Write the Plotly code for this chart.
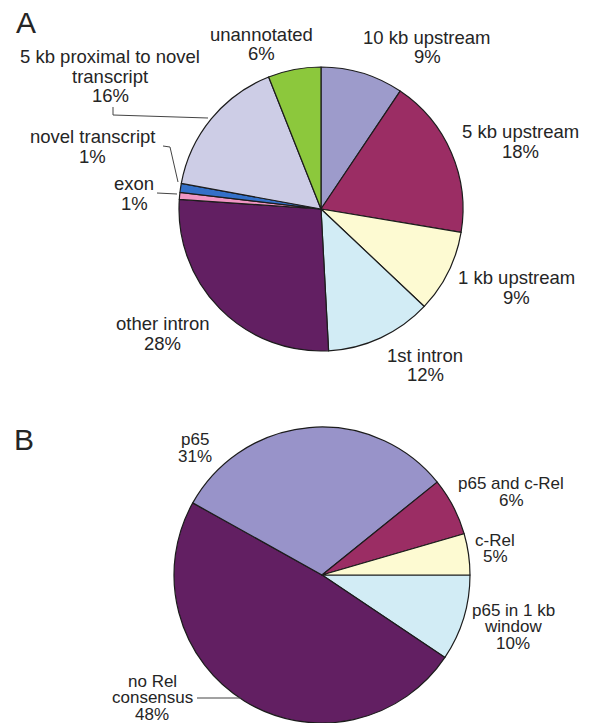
import plotly.graph_objects as go

W, H = 590, 723

# ---- Panel A data (clockwise from 12 o'clock) ----
names_a = ["10 kb upstream", "5 kb upstream", "1 kb upstream", "1st intron",
           "other intron", "exon", "novel transcript",
           "5 kb proximal to novel transcript", "unannotated"]
values_a = [9.4, 18.2, 9.4, 12.1, 26.9, 0.8, 1.0, 16.1, 6.0]
pct_a = ["9%", "18%", "9%", "12%", "28%", "1%", "1%", "16%", "6%"]
colors_a = ["#9D9BCB", "#9B2D64", "#FDFAD2", "#D2ECF5", "#621F62",
            "#F096C3", "#3470C8", "#CDCDE6", "#8CC83C"]

# ---- Panel B data (clockwise from 3 o'clock) ----
names_b = ["p65 in 1 kb window", "no Rel consensus", "p65", "p65 and c-Rel", "c-Rel"]
values_b = [9.4, 48.7, 31.1, 6.3, 4.5]
pct_b = ["10%", "48%", "31%", "6%", "5%"]
colors_b = ["#D2ECF5", "#621F62", "#9893C9", "#9B2D64", "#FDFAD2"]

# label line breaks (text lines above the percentage)
lines_a = [["10 kb upstream"], ["5 kb upstream"], ["1 kb upstream"], ["1st intron"],
           ["other intron"], ["exon"], ["novel transcript"],
           ["5 kb proximal to novel", "transcript"], ["unannotated"]]
lines_b = [["p65 in 1 kb", "window"], ["no Rel", "consensus"], ["p65"],
           ["p65 and c-Rel"], ["c-Rel"]]

# label block layout (pixel centre x, first line centre y)
pos_a = [(427, 37), (520, 131.5), (516, 277.5), (425, 355), (163, 323.5),
         (134, 183.5), (92, 136.5), (110, 57), (261, 34)]
pos_b = [(513, 610), (152, 681), (195, 440), (511, 484), (495, 540)]
step_a, step_b = 19.5, 16.8
font_a, font_b = 18.5, 17

def px(x):
    return x / W

def py(y):
    return 1 - y / H

def dom(cx, cy, r):
    y0 = max(0.0, py(cy + r))
    y1 = min(1.0, py(cy - r))
    return dict(x=[px(cx - r), px(cx + r)], y=[y0, y1])

fig = go.Figure()
fig.add_trace(go.Pie(
    labels=names_a, values=values_a, sort=False, direction="clockwise", rotation=0,
    marker=dict(colors=colors_a, line=dict(color="#1c1c1c", width=1.2)),
    textinfo="none", domain=dom(321, 209, 142), showlegend=False, hole=0))
fig.add_trace(go.Pie(
    labels=names_b, values=values_b, sort=False, direction="clockwise", rotation=90,
    marker=dict(colors=colors_b, line=dict(color="#1c1c1c", width=1.2)),
    textinfo="none", domain=dom(322, 575, 148), showlegend=False, hole=0))

ann = []
def add_block(lines, pct, pos, step, fs):
    cx, cy = pos
    for i, t in enumerate(lines + [pct]):
        ann.append(dict(x=px(cx), y=py(cy + i * step), xref="paper", yref="paper",
                        text=t, showarrow=False, xanchor="center", yanchor="middle",
                        font=dict(family="Liberation Sans, Arial", size=fs, color="#252525")))

for l, p, q in zip(lines_a, pct_a, pos_a):
    add_block(l, p, q, step_a, font_a)
for l, p, q in zip(lines_b, pct_b, pos_b):
    add_block(l, p, q, step_b, font_b)

for letter, (x, y) in [("A", (25.5, 22.5)), ("B", (24, 440))]:
    ann.append(dict(x=px(x), y=py(y), xref="paper", yref="paper", text=letter,
                    showarrow=False, xanchor="center", yanchor="middle",
                    font=dict(family="Liberation Sans, Arial", size=30, color="#252525")))

# leader lines
leaders = [
    [(113, 107), (113, 115), (208, 118)],
    [(163, 146), (170, 147), (178, 182)],
    [(157, 193), (177, 194)],
    [(197, 698), (241, 698)],
]
shapes = []
for pts in leaders:
    path = "M " + " L ".join(f"{px(x)},{py(y)}" for x, y in pts)
    shapes.append(dict(type="path", path=path, xref="paper", yref="paper",
                       line=dict(color="#444444", width=1)))

fig.update_layout(width=W, height=H, autosize=False,
                  margin=dict(l=0, r=0, t=0, b=0),
                  paper_bgcolor="white", plot_bgcolor="white",
                  annotations=ann, shapes=shapes)
fig.write_html("out.html", config={"displayModeBar": False},
               post_script="document.body.style.margin='0';document.body.style.overflow='hidden';")
